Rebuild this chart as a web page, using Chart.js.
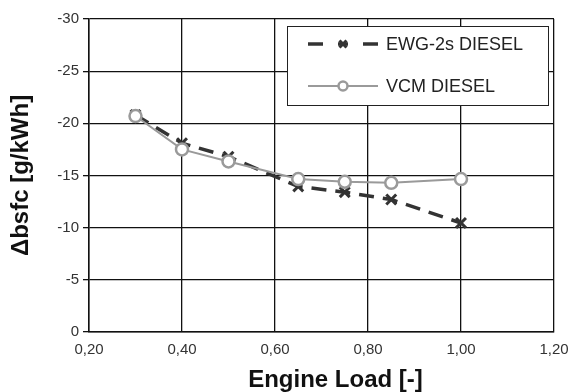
<!DOCTYPE html>
<html>
<head>
<meta charset="utf-8">
<script src="https://cdn.jsdelivr.net/npm/chart.js@4/dist/chart.umd.min.js"></script>
<style>
  html, body { margin: 0; padding: 0; background: #fff; }
  #wrap { width: 569px; height: 392px; position: relative; }
</style>
</head>
<body>
<div id="wrap"><canvas id="c" width="569" height="392"></canvas></div>
<script>
// Engine load points (fraction of full load)
const loads = [0.30, 0.40, 0.50, 0.65, 0.75, 0.85, 1.00];
// Change in brake specific fuel consumption, g/kWh
const ewgDiesel = [-20.8, -18.1, -16.8, -13.95, -13.4, -12.7, -10.45];
const vcmDiesel = [-20.7, -17.5, -16.35, -14.66, -14.4, -14.3, -14.66];
const seriesNames = ['EWG-2s DIESEL', 'VCM DIESEL'];
const xTicks = [0.2, 0.4, 0.6, 0.8, 1.0, 1.2];
const yTicks = [-30, -25, -20, -15, -10, -5, 0];
const xTitle = 'Engine Load [-]';
const yTitle = 'Δbsfc [g/kWh]';

const FONT = "'Liberation Sans', Arial, sans-serif";
const ewgColor = '#333333';
const vcmColor = '#9a9a9a';

const toXY = (xs, ys) => xs.map((x, i) => ({ x: x, y: ys[i] }));

// Boxed legend inside the plot area (upper right) plus the x-axis title
const boxLegend = {
  id: 'boxLegend',
  afterDraw(chart) {
    const ctx = chart.ctx;
    const ca = chart.chartArea;
    const w = 261, h = 79;
    const x0 = ca.right - 6 - w, y0 = ca.top + 7;
    ctx.save();
    ctx.fillStyle = '#fff';
    ctx.fillRect(x0, y0, w, h);
    ctx.strokeStyle = '#222';
    ctx.lineWidth = 1;
    ctx.strokeRect(x0 + 0.5, y0 + 0.5, w, h);

    const ds = chart.data.datasets;
    const rows = [ds.find(d => d.label === seriesNames[0]), ds.find(d => d.label === seriesNames[1])];
    const lx0 = x0 + 21, lx1 = x0 + 91, tx = x0 + 99;
    const mid = (lx0 + lx1) / 2;
    rows.forEach((d, i) => {
      const yy = y0 + 18 + i * 42;
      ctx.strokeStyle = d.borderColor;
      ctx.lineWidth = d.borderWidth;
      if (d.borderDash) {
        // dash - marker - dash sample
        ctx.beginPath(); ctx.moveTo(lx0, yy); ctx.lineTo(lx0 + 15, yy); ctx.stroke();
        ctx.beginPath(); ctx.moveTo(mid - 5, yy); ctx.lineTo(mid + 5, yy); ctx.stroke();
        ctx.beginPath(); ctx.moveTo(lx1 - 15, yy); ctx.lineTo(lx1, yy); ctx.stroke();
      } else {
        ctx.beginPath(); ctx.moveTo(lx0, yy); ctx.lineTo(lx1, yy); ctx.stroke();
      }
      ctx.fillStyle = d.pointBackgroundColor;
      ctx.strokeStyle = d.pointBorderColor;
      ctx.lineWidth = d.pointBorderWidth;
      Chart.helpers.drawPoint(ctx, {
        pointStyle: d.pointStyle,
        radius: d.pointStyle === 'circle' ? 4.5 : 5,
        borderWidth: d.pointBorderWidth
      }, mid, yy);
      ctx.fillStyle = '#222';
      ctx.font = '18px ' + FONT;
      ctx.textBaseline = 'middle';
      ctx.textAlign = 'left';
      ctx.fillText(d.label, tx, yy + 1);
    });

    // x-axis title, set slightly right of the plot centre
    ctx.fillStyle = '#111';
    ctx.font = 'bold 24px ' + FONT;
    ctx.textAlign = 'center';
    ctx.textBaseline = 'alphabetic';
    ctx.fillText(xTitle, (ca.left + ca.right) / 2 + 14, 387);
    ctx.restore();
  }
};

new Chart(document.getElementById('c'), {
  type: 'scatter',
  data: {
    datasets: [
      {
        label: seriesNames[1],
        data: toXY(loads, vcmDiesel),
        showLine: true,
        borderColor: vcmColor,
        borderWidth: 2,
        pointStyle: 'circle',
        pointRadius: 6,
        pointBackgroundColor: '#fff',
        pointBorderColor: vcmColor,
        pointBorderWidth: 2.5,
        order: 0
      },
      {
        label: seriesNames[0],
        data: toXY(loads, ewgDiesel),
        showLine: true,
        borderColor: ewgColor,
        borderWidth: 3.5,
        borderDash: [15, 9],
        pointStyle: 'crossRot',
        pointRadius: 7,
        pointBackgroundColor: ewgColor,
        pointBorderColor: ewgColor,
        pointBorderWidth: 3,
        order: 1
      }
    ]
  },
  options: {
    responsive: false,
    animation: false,
    devicePixelRatio: 1,
    layout: { padding: { left: 0, right: 15, top: 19, bottom: 0 } },
    plugins: {
      legend: { display: false },
      tooltip: { enabled: false }
    },
    scales: {
      x: {
        type: 'linear',
        min: 0.2,
        max: 1.2,
        afterBuildTicks(scale) { scale.ticks = xTicks.map(v => ({ value: v })); },
        afterFit(scale) { scale.height = 60; scale.paddingRight = 0; scale.paddingLeft = 0; },
        border: { display: true, color: '#111', width: 1.5 },
        grid: { color: '#111', lineWidth: 1.3, drawTicks: false },
        ticks: {
          padding: 9,
          color: '#333',
          font: { family: FONT, size: 15 },
          callback: v => v.toFixed(2).replace('.', ',')
        },
        title: { display: false }
      },
      y: {
        type: 'linear',
        min: -30,
        max: 0,
        reverse: true,
        afterBuildTicks(scale) { scale.ticks = yTicks.map(v => ({ value: v })); },
        afterFit(scale) { scale.width = 89; },
        border: { display: true, color: '#111', width: 1.5 },
        grid: { color: '#111', lineWidth: 1.3, tickLength: 6 },
        ticks: {
          padding: 4,
          color: '#333',
          font: { family: FONT, size: 15 },
          callback: v => String(v)
        },
        title: {
          display: true,
          text: yTitle,
          color: '#111',
          font: { family: FONT, size: 24, weight: 'bold' },
          padding: { top: 7, bottom: 0 }
        }
      }
    }
  },
  plugins: [boxLegend]
});
</script>
</body>
</html>
